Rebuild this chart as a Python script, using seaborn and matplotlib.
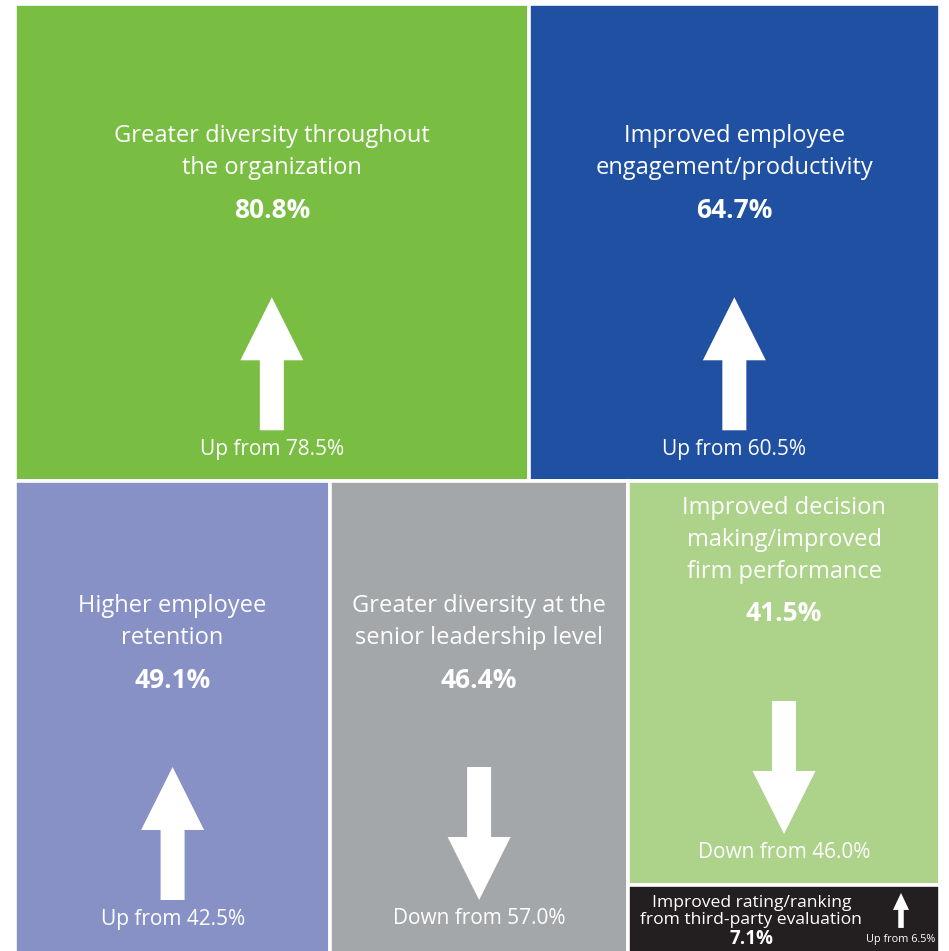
import matplotlib
matplotlib.use("Agg")
import matplotlib.pyplot as plt
import seaborn as sns
from matplotlib.patches import Rectangle, FancyArrow

# data
labels = [
    ["Greater diversity throughout", "the organization"],
    ["Improved employee", "engagement/productivity"],
    ["Higher employee", "retention"],
    ["Greater diversity at the", "senior leadership level"],
    ["Improved decision", "making/improved", "firm performance"],
    ["Improved rating/ranking", "from third-party evaluation"],
]
values = [80.8, 64.7, 49.1, 46.4, 41.5, 7.1]
previous = [78.5, 60.5, 42.5, 57.0, 46.0, 6.5]
colors = ["#79BD43", "#1F50A2", "#8791C6", "#A4A7A9", "#ADD28A", "#231F20"]

# nesting of the treemap: rows, then columns, then rows
nesting = [[0, 1], [2, 3, [4, 5]]]


def total(node):
    if isinstance(node, list):
        return sum(total(n) for n in node)
    return values[node]


def layout(node, x0, y0, x1, y1, vertical, out):
    if not isinstance(node, list):
        out[node] = (x0, y0, x1, y1)
        return
    s = total(node)
    pos = y0 if vertical else x0
    for child in node:
        frac = total(child) / s
        if vertical:
            step = (y1 - y0) * frac
            layout(child, x0, pos, x1, pos + step, not vertical, out)
        else:
            step = (x1 - x0) * frac
            layout(child, pos, y0, pos + step, y1, not vertical, out)
        pos += step


rects = {}
layout(nesting, 15, 4, 940, 954, True, rects)

sns.set_theme(style="white")
plt.rcParams["font.family"] = ["Open Sans", "DejaVu Sans"]

fig = plt.figure(figsize=(9.49, 9.51), dpi=100)
ax = fig.add_axes([0, 0, 1, 1])
ax.set_xlim(0, 949)
ax.set_ylim(951, 0)
ax.axis("off")


def arrow(x, top, bottom, up, width, head_w, head_l):
    start, end = (bottom, top) if up else (top, bottom)
    ax.add_patch(FancyArrow(x, start, 0, end - start, width=width,
                            head_width=head_w, head_length=head_l,
                            length_includes_head=True, color="white", lw=0))


for i, (x0, y0, x1, y1) in rects.items():
    ax.add_patch(Rectangle((x0, y0), x1 - x0, y1 - y0, facecolor=colors[i],
                           edgecolor="white", linewidth=2.6))
    y1 = min(y1, 951)
    cx = (x0 + x1) / 2
    up = values[i] >= previous[i]
    word = "Up" if up else "Down"
    if i == len(values) - 1:
        # small box at the bottom right
        tx = x0 + (x1 - x0) * 0.395
        for k, line in enumerate(labels[i]):
            ax.text(tx, y0 + 18 + 17 * k, line, color="white", fontsize=12.6,
                    ha="center", va="center")
        ax.text(tx, y0 + 54, f"{values[i]}%", color="white", fontsize=13.5,
                fontweight="bold", ha="center", va="center")
        ax.text(x1 - 39, y0 + 55, f"{word} from {previous[i]}%", color="white",
                fontsize=7.8, ha="center", va="center")
        arrow(x1 - 39, y0 + 8, y0 + 43, up, 5.5, 16, 17)
        continue
    a_top, a_bot = y1 - 184, y1 - 51
    arrow(cx, a_top, a_bot, up, 24, 63, 63)
    pct_y = a_top - 87
    ax.text(cx, pct_y, f"{values[i]}%", color="white", fontsize=19,
            fontweight="bold", ha="center", va="center")
    n = len(labels[i])
    for k, line in enumerate(labels[i]):
        ax.text(cx, pct_y - 42 - 32 * (n - 1 - k), line, color="white",
                fontsize=17, ha="center", va="center")
    ax.text(cx, y1 - 32, f"{word} from {previous[i]:.1f}%", color="white",
            fontsize=15, ha="center", va="center")

fig.savefig("out.png", dpi=100)
